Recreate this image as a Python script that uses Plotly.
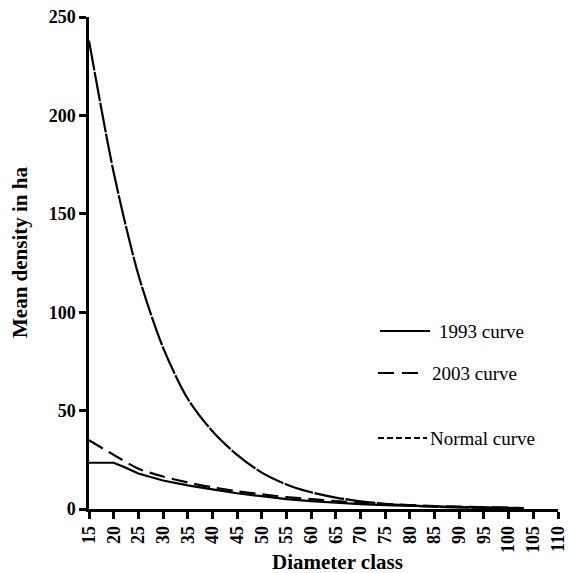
import plotly.graph_objects as go

# Diameter classes (cm)
diam = [15, 20, 25, 30, 35, 40, 45, 50, 55, 60, 65, 70, 75, 80, 85, 90, 95, 100, 103]

# Mean density per ha
normal_curve = [238, 171, 119, 82, 56, 39.5, 27.5, 18.5, 12.5, 8.5, 5.8, 3.9, 2.6, 1.8, 1.2, 0.8, 0.55, 0.37, 0.3]
curve_2003 = [35, 27.5, 20.5, 16.5, 13.5, 11, 9, 7.5, 6, 5, 4, 3.1, 2.5, 2, 1.5, 1.2, 0.9, 0.7, 0.5]
diam_1993 = [15, 20, 22, 25, 30, 35, 40, 45, 50, 55, 60, 65, 70, 75, 80, 85, 90, 95, 100, 103]
curve_1993 = [23.5, 23.5, 21.5, 18, 14.5, 12, 10, 8, 6.5, 5, 4, 3.2, 2.5, 2, 1.6, 1.3, 1, 0.8, 0.6, 0.5]

x_ticks = list(range(15, 111, 5))
y_ticks = [0, 50, 100, 150, 200, 250]

legend_names = ["1993 curve", "2003 curve", "Normal curve"]
x_title = "Diameter class"
y_title = "Mean density in ha"

FONT = "Liberation Serif"
W, H = 568, 573
ML, MR, MT, MB = 89, 10, 17, 64

fig = go.Figure()
fig.add_trace(go.Scatter(x=diam, y=normal_curve, mode="lines", name=legend_names[2],
                         line=dict(color="black", width=2.2, dash="30px,1.5px", shape="spline", smoothing=0.8)))
fig.add_trace(go.Scatter(x=diam, y=curve_2003, mode="lines", name=legend_names[1],
                         line=dict(color="black", width=2.2, dash="16px,7px", shape="spline", smoothing=0.8)))
fig.add_trace(go.Scatter(x=diam_1993, y=curve_1993, mode="lines", name=legend_names[0],
                         line=dict(color="black", width=2.2, shape="linear")))

pw = W - ML - MR
ph = H - MT - MB
def px(xp):
    return (xp - ML) / pw
def py(yp):
    return (H - MB - yp) / ph

# manual legend (sample line + label), pixel positions
legend_items = [
    (legend_names[0], 380, 430, 331, 437, "solid"),
    (legend_names[1], 378, 423, 373, 430, "16px,8px"),
    (legend_names[2], 378, 427, 438, 428, "6px,3px"),
]
shapes = []
annotations = []
for name, x0, x1, yy, xt, dash in legend_items:
    shapes.append(dict(type="line", xref="paper", yref="paper", x0=px(x0), x1=px(x1), y0=py(yy), y1=py(yy),
                       line=dict(color="black", width=2.2, dash=dash)))
    annotations.append(dict(xref="paper", yref="paper", x=px(xt), y=py(yy), text=name, showarrow=False,
                            xanchor="left", yanchor="middle", font=dict(family=FONT, size=19, color="black")))

annotations.append(dict(xref="paper", yref="paper", x=px(337), y=py(562), text="<b>%s</b>" % x_title,
                        showarrow=False, xanchor="center", yanchor="middle",
                        font=dict(family=FONT, size=21, color="black")))
annotations.append(dict(xref="paper", yref="paper", x=px(20), y=py(253), text="<b>%s</b>" % y_title,
                        showarrow=False, xanchor="center", yanchor="middle", textangle=-90,
                        font=dict(family=FONT, size=21, color="black")))

fig.update_layout(
    width=W, height=H,
    margin=dict(l=ML, r=MR, t=MT, b=MB, autoexpand=False),
    paper_bgcolor="white", plot_bgcolor="white",
    showlegend=False,
    shapes=shapes, annotations=annotations,
    font=dict(family=FONT, size=18, color="black"),
)
fig.update_xaxes(range=[15, 110], tickvals=x_ticks, ticktext=["<b>%d</b>" % v for v in x_ticks], tickangle=-90,
                 showgrid=False, zeroline=False, showline=True, linecolor="black", linewidth=2.5,
                 ticks="outside", ticklen=7, tickwidth=2.5, tickcolor="black", automargin=False,
                 tickfont=dict(family=FONT, size=18))
fig.update_yaxes(range=[0, 250], tickvals=y_ticks, ticktext=["<b>%d</b>" % v for v in y_ticks],
                 showgrid=False, zeroline=False, showline=True, automargin=False,
                 linecolor="black", linewidth=2.5, ticks="outside", ticklen=7, tickwidth=2.5, tickcolor="black",
                 tickfont=dict(family=FONT, size=18))

fig.write_html("out.html", config={"displayModeBar": False},
               post_script="document.body.style.margin='0';")
